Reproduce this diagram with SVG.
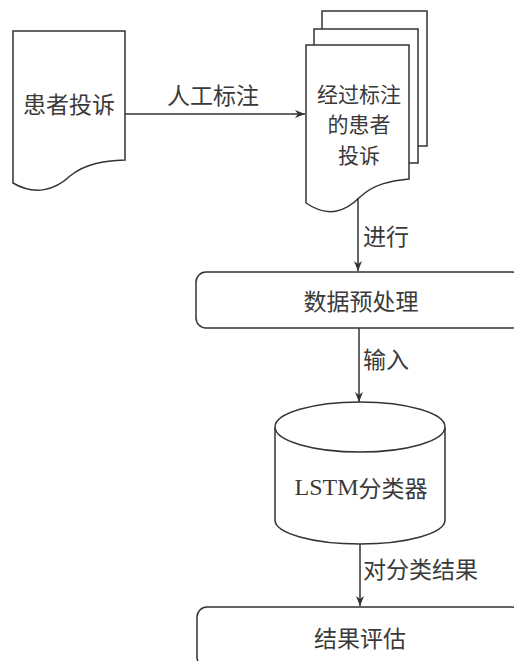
<svg xmlns="http://www.w3.org/2000/svg" width="514" height="661" viewBox="0 0 514 661">
<defs>
<style>
.s{fill:#fff;stroke:#333;stroke-width:1.5}
.t{font-family:"Noto Sans CJK SC","Noto Sans",sans-serif;font-size:23px;fill:#3a3a3a;dominant-baseline:central}
.c{text-anchor:middle}
.m{font-size:21px}
.l{fill:none;stroke:#333;stroke-width:1.5}
</style>
<marker id="ah" viewBox="0 0 10 8" refX="10" refY="4" markerWidth="10" markerHeight="8" markerUnits="userSpaceOnUse" orient="auto">
<path d="M0,0 L10,4 L0,8 L3,4 Z" fill="#333"/>
</marker>
</defs>
<rect width="514" height="661" fill="#fff"/>
<g id="complaint">
<path class="s" d="M13,31 H125 V160 C105,161 86,163 70,176 C55,190 35,196 13,183 Z"/>
<text class="t c" x="69" y="103">患者投诉</text>
</g>
<g id="labeled">
<rect class="s" x="322" y="11" width="105" height="135"/>
<rect class="s" x="314" y="29" width="104" height="134"/>
<path class="s" d="M306,45 H409 V179 C390,181 374,184 360,197 C345,212 328,218 306,203 Z"/>
<text class="t c m" x="359" y="92.5">经过标注</text>
<text class="t c m" x="359" y="123">的患者</text>
<text class="t c m" x="359" y="153.5">投诉</text>
</g>
<g id="preprocess">
<rect class="s" x="196" y="272" width="326" height="56" rx="10"/>
<text class="t c" x="361" y="300">数据预处理</text>
</g>
<g id="lstm">
<path class="s" d="M275,428 V520 A85,24 0 0 0 445,520 V428"/>
<ellipse class="s" cx="360" cy="427" rx="85" ry="25"/>
<text class="t c" x="361" y="487"><tspan font-family="Liberation Serif" font-size="24">LSTM</tspan>分类器</text>
</g>
<g id="evaluate">
<rect class="s" x="197" y="607" width="325" height="60" rx="10"/>
<text class="t c" x="360" y="637">结果评估</text>
</g>
<g id="connectors">
<line class="l" x1="125" y1="114" x2="305" y2="114" marker-end="url(#ah)"/>
<line class="l" x1="358" y1="198" x2="358" y2="271" marker-end="url(#ah)"/>
<line class="l" x1="359" y1="328" x2="359" y2="402" marker-end="url(#ah)"/>
<line class="l" x1="360" y1="544" x2="360" y2="606" marker-end="url(#ah)"/>
<text class="t c" x="213" y="94">人工标注</text>
<text class="t" x="363" y="235">进行</text>
<text class="t" x="363" y="358">输入</text>
<text class="t" x="363" y="568">对分类结果</text>
</g>
</svg>
